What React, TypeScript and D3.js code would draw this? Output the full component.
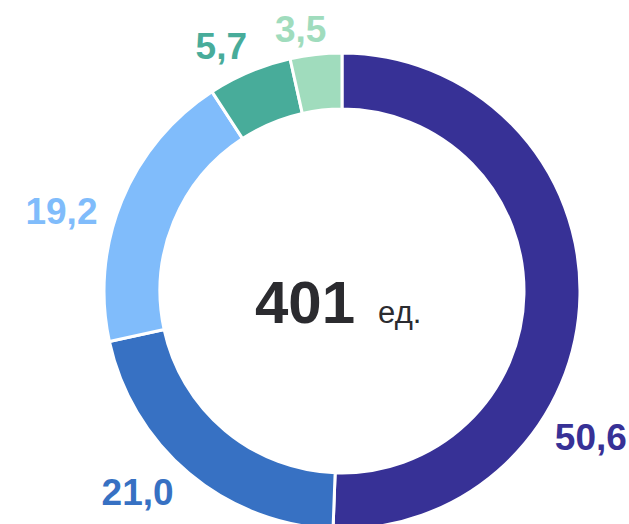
import React from "react";
import * as d3 from "d3";

const categories = ["A", "B", "C", "D", "E"];
const values = [50.6, 21.0, 19.2, 5.7, 3.5];
const labels = ["50,6", "21,0", "19,2", "5,7", "3,5"];
const colors = ["#373196", "#3771c3", "#80bcfb", "#48ac9a", "#a0dcbd"];
const total = 401;
const unit = "ед.";

const W = 629;
const H = 524;
const cx = 342;
const cy = 291;
const outerR = 238;
const innerR = 182;
// label placement: fraction along slice and radius
const labelFrac = [0.66, 0.575, 0.41, 0.34, 0.29];
const labelR = [288, 286, 292, 274, 266];

export default function App() {
  const pie = d3.pie<number>().sort(null).value((d) => d)(values);
  const arc = d3.arc<d3.PieArcDatum<number>>().innerRadius(innerR).outerRadius(outerR);
  return (
    <svg width={W} height={H} style={{ position: "absolute", left: 0, top: 0, background: "#fff" }}>
      <g transform={`translate(${cx},${cy})`}>
        {pie.map((p, i) => (
          <path key={categories[i]} d={arc(p) || ""} fill={colors[i]} stroke="#fff" strokeWidth={3} />
        ))}
        {pie.map((p, i) => {
          const a = p.startAngle + labelFrac[i] * (p.endAngle - p.startAngle);
          const x = Math.sin(a) * labelR[i];
          const y = -Math.cos(a) * labelR[i];
          return (
            <text
              key={"l" + i}
              x={x}
              y={y}
              dy="0.37em"
              textAnchor="middle"
              fill={colors[i]}
              fontFamily="Liberation Sans, Arial, sans-serif"
              fontWeight="bold"
              fontSize={37}
            >
              {labels[i]}
            </text>
          );
        })}
        <text x={-87} y={32} fill="#2b2b2f" fontFamily="Liberation Sans, Arial, sans-serif">
          <tspan fontWeight="bold" fontSize={60}>{total}</tspan>
          <tspan fontSize={31} dx={23}>{unit}</tspan>
        </text>
      </g>
    </svg>
  );
}
